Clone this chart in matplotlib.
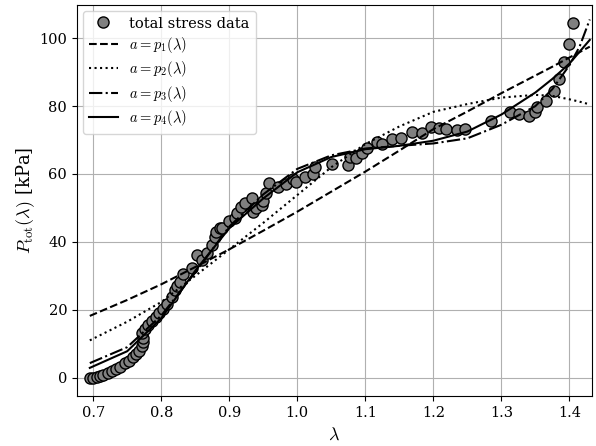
import numpy as np
import matplotlib
matplotlib.use('Agg')
import matplotlib.pyplot as plt

plt.rcParams['font.family'] = 'serif'
plt.rcParams['font.serif'] = ['DejaVu Serif']
plt.rcParams['mathtext.fontset'] = 'cm'
plt.rcParams['font.size'] = 10.5

# measured total stress (stretch lambda, stress in kPa)
lam_data = [0.695, 0.700, 0.705, 0.710, 0.714, 0.722, 0.727, 0.733, 0.739, 0.746,
            0.752, 0.758, 0.763, 0.767, 0.772, 0.773, 0.773, 0.772, 0.776, 0.780,
            0.786, 0.792, 0.797, 0.803, 0.809, 0.816, 0.820, 0.823, 0.827, 0.832,
            0.845, 0.852, 0.860, 0.867, 0.874, 0.879, 0.881, 0.886, 0.890, 0.899,
            0.908, 0.912, 0.917, 0.923, 0.933, 0.935, 0.940, 0.948, 0.949, 0.954,
            0.959, 0.971, 0.984, 0.993, 0.998, 1.011, 1.023, 1.026, 1.051, 1.074,
            1.078, 1.087, 1.095, 1.103, 1.117, 1.124, 1.139, 1.153, 1.168, 1.183,
            1.197, 1.209, 1.218, 1.235, 1.246, 1.285, 1.312, 1.326, 1.341, 1.349,
            1.353, 1.366, 1.378, 1.385, 1.392, 1.399, 1.406]
p_data = [0.0, 0.0, 0.1, 0.4, 0.7, 1.3, 1.9, 2.7, 3.3, 4.2,
          4.8, 6.0, 6.9, 8.0, 9.2, 10.4, 11.6, 13.1, 14.2, 15.4,
          16.6, 17.8, 19.0, 20.1, 21.6, 23.7, 25.8, 27.0, 28.1, 30.5,
          32.3, 36.1, 34.6, 36.7, 39.0, 41.4, 42.9, 44.2, 44.2, 46.2,
          47.0, 48.5, 50.3, 51.5, 52.9, 48.8, 50.0, 50.9, 52.0, 54.4,
          57.3, 56.1, 57.0, 58.5, 57.6, 59.1, 60.0, 62.0, 63.0, 62.7,
          65.1, 64.8, 66.3, 67.8, 69.3, 68.7, 70.2, 70.5, 72.5, 72.2,
          73.7, 73.5, 73.3, 73.0, 73.2, 75.5, 78.4, 77.8, 77.2, 78.4,
          79.6, 81.6, 84.3, 88.0, 93.0, 98.3, 104.5]

# fitted model curves, sampled along lambda
lam_fit = [0.695, 0.75, 0.80, 0.85, 0.90, 0.95, 1.00, 1.05, 1.10, 1.15,
           1.20, 1.25, 1.30, 1.35, 1.375, 1.40, 1.415, 1.43]
p1_fit = [18.2, 22.9, 27.5, 32.6, 37.8, 43.3, 48.9, 54.8, 60.7, 66.9,
          73.2, 78.4, 83.8, 89.0, 91.6, 94.3, 95.9, 97.5]
p2_fit = [11.0, 16.5, 22.3, 30.0, 37.8, 45.6, 53.8, 62.0, 68.8, 74.0,
          78.3, 80.6, 82.5, 83.3, 83.0, 82.0, 81.3, 80.5]
p3_fit = [4.3, 9.0, 18.3, 31.0, 44.5, 54.0, 61.5, 65.5, 67.5, 68.3,
          69.0, 70.5, 74.5, 80.0, 85.0, 92.0, 97.5, 105.5]
p4_fit = [2.9, 7.8, 17.5, 31.5, 44.0, 52.8, 60.5, 65.0, 67.3, 68.3,
          69.8, 72.5, 77.5, 84.0, 88.0, 92.5, 96.0, 99.5]

fig, ax = plt.subplots(figsize=(5.96, 4.46), dpi=100)
fig.subplots_adjust(left=0.129, right=0.993, top=0.989, bottom=0.112)

# data first so the fitted lines sit on top of the markers
ax.plot(lam_data, p_data, 'o', color='grey', markeredgecolor='black',
        markeredgewidth=1.0, markersize=8, label='total stress data')
ax.plot(lam_fit, p1_fit, 'k--', lw=1.5, label=r'$a = p_1(\lambda)$')
ax.plot(lam_fit, p2_fit, 'k:', lw=1.5, label=r'$a = p_2(\lambda)$')
ax.plot(lam_fit, p3_fit, 'k-.', lw=1.5, label=r'$a = p_3(\lambda)$')
ax.plot(lam_fit, p4_fit, 'k-', lw=1.5, label=r'$a = p_4(\lambda)$')

ax.set_xlim(0.676, 1.433)
ax.set_ylim(-5.4, 109.8)
ax.set_xticks([0.7, 0.8, 0.9, 1.0, 1.1, 1.2, 1.3, 1.4])
ax.set_xlabel(r'$\lambda$', fontsize=13)
ax.set_ylabel(r'$P_{\mathrm{tot}}(\lambda)$ [kPa]', fontsize=13, labelpad=2)
ax.grid(True)
ax.set_axisbelow(True)
ax.legend(loc='upper left', labelspacing=0.3, borderaxespad=0.4)

plt.savefig('out.png', dpi=100)
